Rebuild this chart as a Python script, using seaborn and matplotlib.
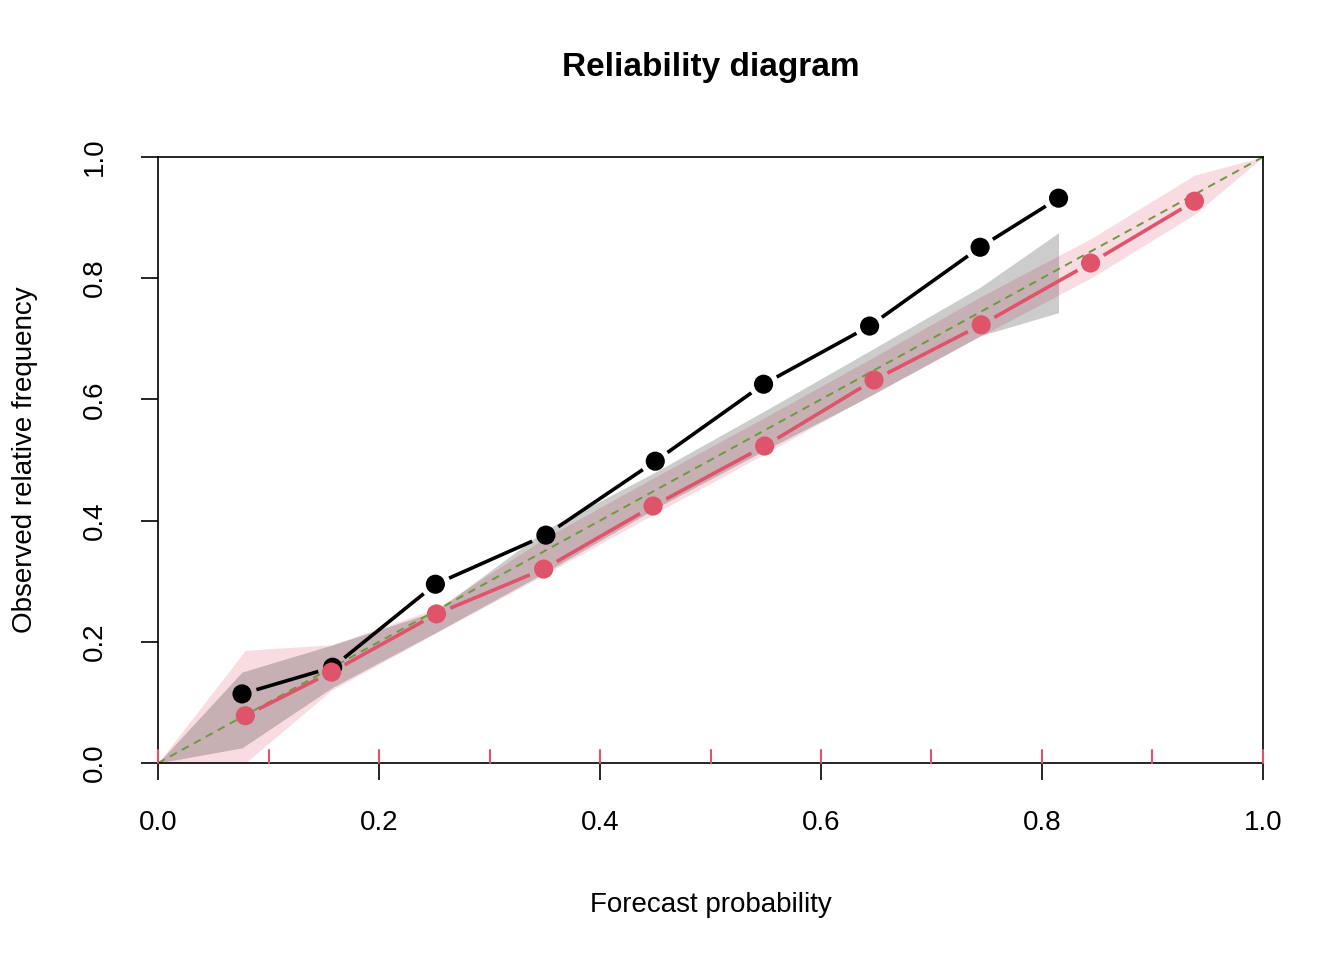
import matplotlib
matplotlib.use("Agg")
import matplotlib.pyplot as plt
import seaborn as sns
import numpy as np
import pandas as pd

sns.set_style("white")
plt.rcParams['font.family'] = ['Liberation Sans', 'DejaVu Sans']
plt.rcParams['text.color'] = 'black'
plt.rcParams['axes.labelcolor'] = 'black'
plt.rcParams['xtick.color'] = 'black'
plt.rcParams['ytick.color'] = 'black'

# Data
black_x = [0.076, 0.158, 0.251, 0.351, 0.450, 0.548, 0.644, 0.744, 0.815]
black_y = [0.114, 0.158, 0.295, 0.376, 0.498, 0.625, 0.721, 0.851, 0.932]
red_x = [0.079, 0.157, 0.252, 0.349, 0.448, 0.549, 0.648, 0.745, 0.844, 0.938]
red_y = [0.078, 0.150, 0.246, 0.320, 0.424, 0.523, 0.632, 0.723, 0.825, 0.927]

grey_bx = [0.0, 0.076, 0.158, 0.251, 0.351, 0.450, 0.548, 0.644, 0.744, 0.815]
grey_lo = [0.0, 0.025, 0.125, 0.215, 0.315, 0.420, 0.515, 0.605, 0.705, 0.743]
grey_hi = [0.0, 0.150, 0.195, 0.250, 0.385, 0.480, 0.580, 0.680, 0.785, 0.875]

pink_bx = [0.0, 0.079, 0.157, 0.252, 0.349, 0.448, 0.549, 0.648, 0.745, 0.844, 0.938, 1.0]
pink_lo = [0.0, 0.0, 0.120, 0.215, 0.310, 0.410, 0.510, 0.610, 0.705, 0.800, 0.905, 1.0]
pink_hi = [0.0, 0.186, 0.195, 0.255, 0.370, 0.470, 0.570, 0.670, 0.770, 0.865, 0.970, 1.0]

rug = [0.0, 0.1, 0.2, 0.3, 0.4, 0.5, 0.6, 0.7, 0.8, 0.9, 1.0]
ticks = [0.0, 0.2, 0.4, 0.6, 0.8, 1.0]

RED = "#DF536B"
SX, SY, GAP = 1105.0, 606.0, 15.0  # pixels per unit, gap radius in px


def gapped(ax, xs, ys, color):
    for i in range(len(xs) - 1):
        dx = (xs[i + 1] - xs[i]) * SX
        dy = (ys[i + 1] - ys[i]) * SY
        L = np.hypot(dx, dy)
        if L <= 2 * GAP:
            continue
        f = GAP / L
        x0 = xs[i] + (xs[i + 1] - xs[i]) * f
        y0 = ys[i] + (ys[i + 1] - ys[i]) * f
        x1 = xs[i + 1] - (xs[i + 1] - xs[i]) * f
        y1 = ys[i + 1] - (ys[i + 1] - ys[i]) * f
        ax.plot([x0, x1], [y0, y1], color=color, lw=2.6, solid_capstyle="butt", zorder=4)


fig = plt.figure(figsize=(13.44, 9.6), dpi=100)
ax = fig.add_axes([0.1176, 0.2052, 0.8221, 0.6313])

ax.fill_between(pink_bx, pink_lo, pink_hi, color=RED, alpha=0.2, lw=0)
ax.fill_between(grey_bx, grey_lo, grey_hi, color="black", alpha=0.2, lw=0)
ax.plot([0, 1], [0, 1], ls=(0, (4, 3)), color="#6B9A3C", lw=1.4)

dfb = pd.DataFrame({"x": black_x, "y": black_y})
dfr = pd.DataFrame({"x": red_x, "y": red_y})
gapped(ax, black_x, black_y, "black")
gapped(ax, red_x, red_y, RED)
sns.scatterplot(data=dfb, x="x", y="y", ax=ax, color="black", s=190, edgecolor="none", zorder=5)
sns.scatterplot(data=dfr, x="x", y="y", ax=ax, color=RED, s=190, edgecolor="none", zorder=5)

for r in rug:
    ax.plot([r, r], [0, 0.022], color=RED, lw=1.5, clip_on=False, zorder=6)

ax.set_xlim(0, 1)
ax.set_ylim(0, 1)
ax.set_xticks(ticks)
ax.set_yticks(ticks)
ax.set_xticklabels([f"{t:.1f}" for t in ticks], fontsize=20)
ax.set_yticklabels([f"{t:.1f}" for t in ticks], fontsize=20, rotation=90, va="center")
ax.tick_params(axis="both", direction="out", length=12, width=1.2, color="black",
               bottom=True, left=True)
ax.tick_params(axis="x", pad=22)
ax.tick_params(axis="y", pad=24)
for s in ax.spines.values():
    s.set_color("black")
    s.set_linewidth(1.2)
ax.set_xlabel("Forecast probability", fontsize=20, labelpad=40)
ax.set_ylabel("Observed relative frequency", fontsize=20, labelpad=32)
ax.set_title("Reliability diagram", fontsize=24, fontweight="bold", pad=58)

fig.savefig("out.png", dpi=100)
